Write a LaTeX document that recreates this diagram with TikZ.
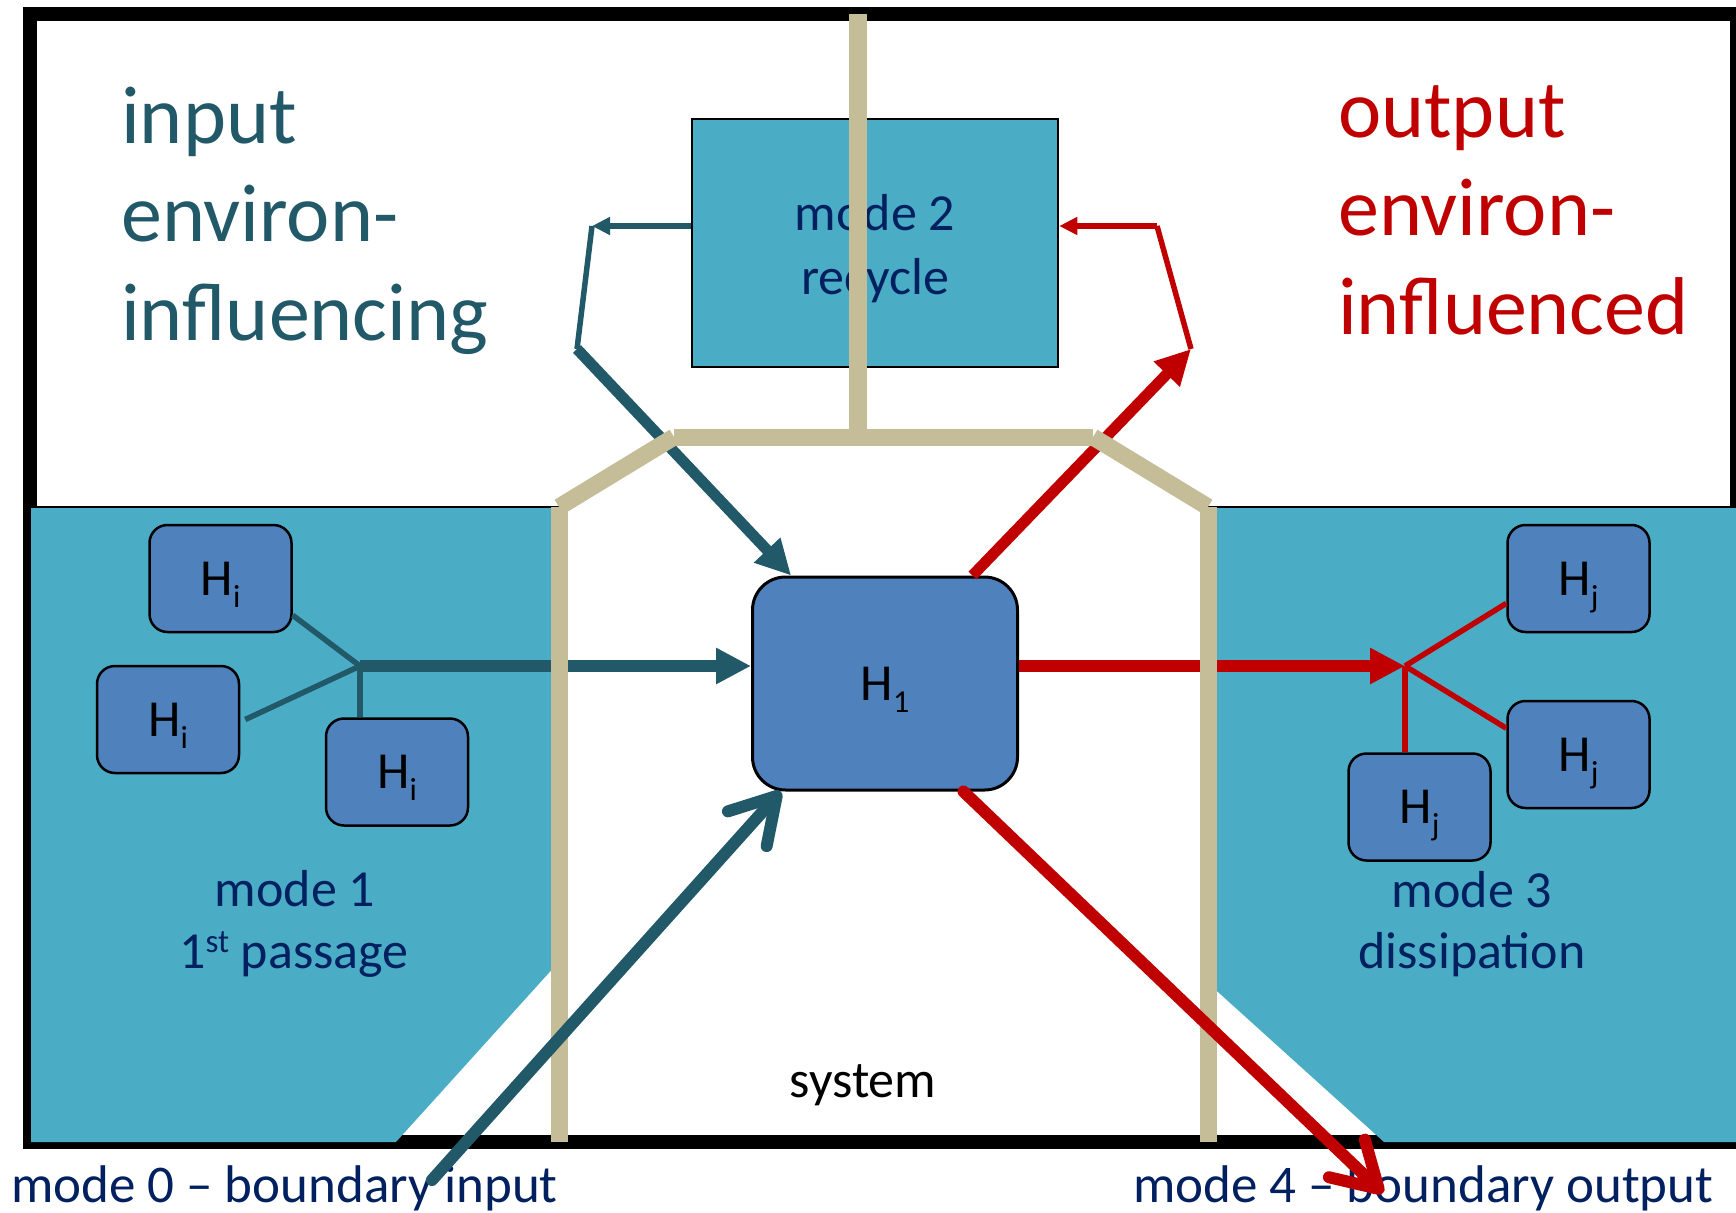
\documentclass[tikz,border=0pt]{standalone}
\usepackage{fontspec}
\setmainfont{Carlito}
\usetikzlibrary{arrows.meta,calc}

\definecolor{regionfill}{HTML}{4BACC6}
\definecolor{hfill}{HTML}{4F81BD}
\definecolor{wall}{HTML}{C4BD97}
\definecolor{inflow}{HTML}{215968}
\definecolor{outflow}{HTML}{C00000}
\definecolor{navy}{HTML}{002060}

% H with a lowered index
\newcommand{\Hlab}[1]{H\raisebox{-12pt}{\fontsize{32}{32}\selectfont #1}}

\tikzset{
  hcell/.style={draw=black, line width=2.5pt, fill=hfill, rounded corners=18pt,
    minimum width=142pt, minimum height=107pt, inner sep=0pt, text depth=0pt,
    font=\fontsize{52}{60}\selectfont},
  hmain/.style={hcell, rounded corners=33pt, minimum width=265pt,
    minimum height=213pt, line width=3pt},
  lbl/.style={inner sep=0pt, text=navy, font=\fontsize{52}{62}\selectfont},
  bigtxt/.style={inner sep=0pt, anchor=base west, font=\fontsize{82}{99}\selectfont},
  leg/.style={line width=5.5pt},
  feed/.style={line width=11pt, -{Triangle[length=35pt,width=34pt]}},
  smallhead/.style={-{Triangle[length=18pt,width=17pt]}},
  barb/.style={line width=12pt, line cap=round,
    -{Straight Barb[length=44pt,width=52pt,round]}},
  wallline/.style={draw=wall, line width=17pt}
}

\begin{document}
\begin{tikzpicture}[x=1pt,y=-1pt]
\useasboundingbox[fill=white] (0,0) rectangle (1736,1212);

% outer frame
\draw[line width=14pt] (29.5,14) rectangle (1737,1142);

% environment regions
\fill[regionfill] (31,507) -- (556,507) -- (556,965) -- (396,1142) -- (31,1142) -- cycle;
\draw[line width=1.5pt] (31,507) -- (560,507);
\fill[regionfill] (1208,507) -- (1740,507) -- (1740,1142) -- (1384,1142) -- (1208,983) -- cycle;
\draw[line width=1.5pt] (1206,507) -- (1740,507);

% recycle box
\node[draw=black, line width=2.5pt, fill=regionfill, minimum width=366pt,
  minimum height=248pt, align=center, text=navy,
  font=\fontsize{52}{64}\selectfont] (recycle) at (875,243)
  {\rule{0pt}{47pt}mode 2\\recycle};

% central component and neighbours
\node[hmain] (H1) at (885,683.5) {\Hlab{1}};
\node[hcell] (hiA) at (220.5,578.5) {\Hlab{i}};
\node[hcell] (hiB) at (168,719.5) {\Hlab{i}};
\node[hcell] (hiC) at (397,772) {\Hlab{i}};
\node[hcell] (hjA) at (1578.5,578.5) {\Hlab{j}};
\node[hcell] (hjB) at (1578.5,754.5) {\Hlab{j}};
\node[hcell] (hjC) at (1419.5,807) {\Hlab{j}};

\coordinate (jin) at (360,666);
\coordinate (jout) at (1405,666);
\coordinate (inKnee) at (577,349);
\coordinate (inTop) at (592,226);
\coordinate (outKnee) at (1191,349);
\coordinate (outTop) at (1157,226);
\coordinate (src) at (432,1180);
\coordinate (sink) at (1383,1193);

% gathering and spreading legs
\draw[inflow, leg] (hiA.-27) -- (jin);
\draw[inflow, leg] ([xshift=5pt]hiB.east) -- (jin);
\draw[inflow, leg] (jin |- hiC.north) -- (jin);
\draw[outflow, leg] (hjA.199) -- (jout);
\draw[outflow, leg] (hjB.160) -- (jout);
\draw[outflow, leg] (jout |- hjC.north) -- (jout);

% first passage and dissipation
\draw[inflow, feed, line width=12pt] (jin) -- (jin -| H1.west);
\draw[outflow, feed, line width=12pt] (jout -| H1.east) -- (jout);

% recycle loop
\draw[outflow, feed] (H1.51) -- (outKnee);
\draw[outflow, leg] (outKnee) -- (outTop);
\draw[outflow, leg, smallhead] (outTop) -- (outTop -| recycle.east);
\draw[inflow, leg, smallhead] (inTop -| recycle.west) -- (inTop);
\draw[inflow, leg] (inTop) -- (inKnee);
\draw[inflow, feed] (inKnee) -- (H1.131);

% system walls
\draw[wallline, line width=18pt] (858,14) -- (858,437);
\draw[wallline] (674,437) -- (1093,437);
\draw[wallline] (674,437) -- (559,507);
\draw[wallline] (1093,437) -- (1208,507);
\draw[wallline] (559,507) -- (559,1142);
\draw[wallline] (1208,507) -- (1208,1142);

% texts
\node[bigtxt, text=inflow] (inA) at (121,143) {input};
\node[bigtxt, text=inflow] (inB) at (121,241) {environ-};
\node[bigtxt, text=inflow] (inC) at (121,340) {influencing};
\node[bigtxt, text=outflow] (outA) at (1338,137) {output};
\node[bigtxt, text=outflow] (outB) at (1338,235) {environ-};
\node[bigtxt, text=outflow] (outC) at (1338,334) {influenced};

\node[lbl, anchor=base] (m1a) at (295,906) {mode 1};
\node[lbl, anchor=base] (m1b) at (294,968) {1\raisebox{16pt}{\fontsize{33}{33}\selectfont st} passage};
\node[lbl, anchor=base] (m3a) at (1472,907) {mode 3};
\node[lbl, anchor=base] (m3b) at (1472,968) {dissipation};
\node[lbl, anchor=base, text=black] (sys) at (863,1097) {system};
\node[lbl, anchor=base west, font=\fontsize{53}{62}\selectfont] (m0) at (11,1202) {mode 0 – boundary input};
\node[lbl, anchor=base west, font=\fontsize{53}{62}\selectfont] (m4) at (1133,1202) {mode 4 – boundary output};

% boundary flows
\draw[inflow, barb] (src) -- (H1.226);
\draw[outflow, barb] (H1.-54) -- (sink);
\end{tikzpicture}
\end{document}
